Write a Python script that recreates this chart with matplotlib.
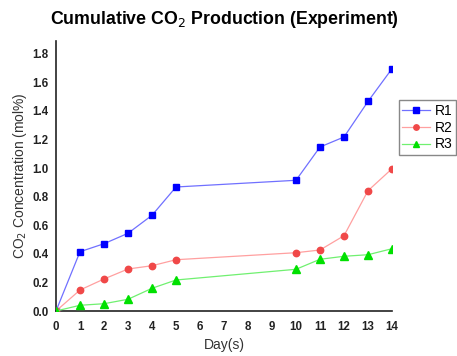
import matplotlib
matplotlib.use("Agg")
import matplotlib.pyplot as plt

days = [0, 1, 2, 3, 4, 5, 10, 11, 12, 13, 14]
r1 = [0.0, 0.415, 0.471, 0.544, 0.67, 0.868, 0.915, 1.148, 1.218, 1.467, 1.696]
r2 = [0.0, 0.147, 0.224, 0.294, 0.317, 0.359, 0.408, 0.427, 0.527, 0.842, 0.996]
r3 = [0.0, 0.040, 0.051, 0.082, 0.159, 0.217, 0.292, 0.362, 0.383, 0.394, 0.436]
xticks = list(range(0, 15))
yticks = [0.0, 0.2, 0.4, 0.6, 0.8, 1.0, 1.2, 1.4, 1.6, 1.8]

plt.rcParams['font.family'] = ['Liberation Sans', 'DejaVu Sans']

fig = plt.figure(figsize=(4.57, 3.56), dpi=100)
ax = fig.add_axes([56/457, 45/356, 336/457, 270/356])

ax.plot(days, r1, color='#7070ff', lw=0.9, marker='s', ms=4.3,
        mfc='#0000ff', mec='#0000ff', label='R1', zorder=3)
ax.plot(days, r2, color='#ffa0a0', lw=0.9, marker='o', ms=4.6,
        mfc='#f04848', mec='#f04848', label='R2', zorder=3)
ax.plot(days, r3, color='#70f070', lw=0.9, marker='^', ms=5.2,
        mfc='#00e000', mec='#00e000', label='R3', zorder=4)

ax.set_xlim(0, 14)
ax.set_ylim(0, 1.89)
ax.set_xticks(xticks)
ax.set_xticklabels([str(x) for x in xticks], fontsize=8.3, fontweight='bold')
ax.set_yticks(yticks)
ax.set_yticklabels([f"{y:.1f}" for y in yticks], fontsize=8.3, fontweight='bold')
ax.tick_params(axis='x', length=0, pad=7, colors='#222222')
ax.tick_params(axis='y', length=0, pad=5.5, colors='#222222')
for s in ['top', 'right']:
    ax.spines[s].set_visible(False)
for s in ['left', 'bottom']:
    ax.spines[s].set_color('#222222')
    ax.spines[s].set_linewidth(1.2)

ax.set_xlabel('Day(s)', fontsize=10, color='#333333', labelpad=4)
ax.set_ylabel('CO$_2$ Concentration (mol%)', fontsize=10, color='#333333', labelpad=2.5)
fig.text(224/457, 1 - 20/356, 'Cumulative CO$_2$ Production (Experiment)',
         ha='center', va='center', fontsize=12.8, fontweight='bold')

leg = ax.legend(loc='upper left', bbox_to_anchor=(1.02, 0.78), fontsize=10,
                frameon=True, fancybox=False, framealpha=1, edgecolor='#888888',
                handlelength=2.0, markerscale=0.85, borderpad=0.25,
                labelspacing=0.2, handletextpad=0.35, borderaxespad=0)
leg.get_frame().set_linewidth(1.0)

fig.savefig('out.png', dpi=100)
